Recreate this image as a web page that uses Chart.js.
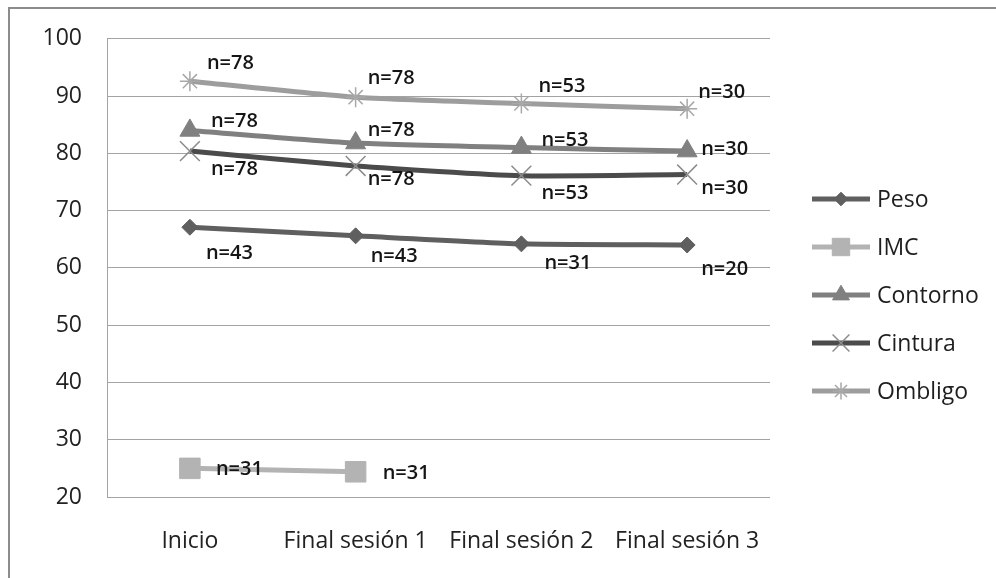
<!DOCTYPE html>
<html>
<head>
<meta charset="utf-8">
<script src="https://cdn.jsdelivr.net/npm/chart.js@4.4.0/dist/chart.umd.min.js"></script>
<style>
  html, body { margin: 0; padding: 0; background: #fff; }
  #wrap { position: relative; width: 996px; height: 578px; }
  #frame { position: absolute; left: 8px; top: 7px; right: 0; bottom: 0;
           border-top: 2px solid #8c8c8c; border-left: 2px solid #8c8c8c; pointer-events: none; }
</style>
</head>
<body>
<div id="wrap"><canvas id="chart" width="996" height="578"></canvas><div id="frame"></div></div>
<script>
const categories = ["Inicio", "Final sesión 1", "Final sesión 2", "Final sesión 3"];
const seriesNames = ["Peso", "IMC", "Contorno", "Cintura", "Ombligo"];
const peso = [67.1, 65.6, 64.2, 64.0];
const imc = [25.0, 24.4, null, null];
const contorno = [84.0, 81.8, 81.0, 80.4];
const cintura = [80.4, 77.8, 76.1, 76.3];
const ombligo = [92.6, 89.8, 88.7, 87.8];
// sample sizes shown next to each point
const nPeso = [43, 43, 31, 20];
const nImc = [31, 31];
const nContorno = [78, 78, 53, 30];
const nCintura = [78, 78, 53, 30];
const nOmbligo = [78, 78, 53, 30];
const yTicks = [20, 30, 40, 50, 60, 70, 80, 90, 100];

const FONT = "'Open Sans', sans-serif";

// label offsets from each point, [dx, dy]
const labelOffsets = [
  [[16, 26], [15, 20], [23, 19], [14, 24]],
  [[26, 1], [27, 1]],
  [[21, -9], [12, -13], [20, -7], [14, -2]],
  [[21, 18], [12, 13], [20, 18], [14, 14]],
  [[17, -18], [12, -19], [17, -17], [11, -16]]
];

const nLabels = {
  id: "nLabels",
  afterDatasetsDraw(chart) {
    const ctx = chart.ctx;
    ctx.save();
    ctx.font = "600 20px " + FONT;
    ctx.fillStyle = "#151515";
    ctx.textAlign = "left";
    ctx.textBaseline = "middle";
    chart.data.datasets.forEach((ds, i) => {
      const meta = chart.getDatasetMeta(i);
      ds.nValues.forEach((n, j) => {
        const pt = meta.data[j];
        const off = labelOffsets[i][j];
        ctx.fillText("n=" + n, pt.x + off[0], pt.y + off[1]);
      });
    });
    ctx.restore();
  }
};

//legend drawn by hand: line with marker, then text
const lineLegend = {
  id: "lineLegend",
  afterDraw(chart) {
    const ctx = chart.ctx;
    const x0 = chart.chartArea.right + 42;
    chart.data.datasets.forEach((ds, i) => {
      const y = 199 + i * 48;
      ctx.save();
      ctx.strokeStyle = ds.borderColor;
      ctx.lineWidth = ds.borderWidth;
      ctx.beginPath();
      ctx.moveTo(x0, y);
      ctx.lineTo(x0 + 58, y);
      ctx.stroke();
      ctx.fillStyle = ds.pointBackgroundColor;
      ctx.strokeStyle = ds.pointBorderColor;
      ctx.lineWidth = ds.pointBorderWidth;
      Chart.helpers.drawPoint(ctx, {
        pointStyle: ds.pointStyle,
        radius: ds.pointRadius * 0.85,
        borderWidth: ds.pointBorderWidth,
        rotation: 0
      }, x0 + 29, y);
      ctx.font = "23px " + FONT;
      ctx.fillStyle = "#1e1e1e";
      ctx.textAlign = "left";
      ctx.textBaseline = "middle";
      ctx.fillText(ds.label, x0 + 65, y + 1);
      ctx.restore();
    });
  }
};

function series(label, data, nValues, color, style, radius, markerColor, markerBorder) {
  return {
    label: label,
    data: data,
    nValues: nValues,
    borderColor: color,
    borderWidth: 5,
    tension: 0.2,
    spanGaps: false,
    pointStyle: style,
    pointRadius: radius,
    pointHoverRadius: radius,
    pointBackgroundColor: markerColor,
    pointBorderColor: markerColor,
    pointBorderWidth: markerBorder
  };
}

const ctx = document.getElementById("chart").getContext("2d");
new Chart(ctx, {
  type: "line",
  data: {
    labels: categories,
    datasets: [
      series(seriesNames[0], peso, nPeso, "#5f5f5f", "rectRot", 8, "#5f5f5f", 1),
      series(seriesNames[1], imc, nImc, "#b3b3b3", "rect", 14.5, "#b3b3b3", 1),
      series(seriesNames[2], contorno, nContorno, "#808080", "triangle", 11.5, "#808080", 1),
      series(seriesNames[3], cintura, nCintura, "#4b4b4b", "crossRot", 14, "#8c8c8c", 1.5),
      series(seriesNames[4], ombligo, nOmbligo, "#9d9d9d", "star", 10, "#a8a8a8", 1.5)
    ]
  },
  options: {
    responsive: false,
    animation: false,
    layout: { padding: { top: 38, right: 226, left: 0, bottom: 0 } },
    plugins: {
      legend: { display: false },
      tooltip: { enabled: false }
    },
    scales: {
      x: {
        offset: true,
        grid: { display: false, drawTicks: false },
        border: { display: false },
        ticks: { color: "#222", font: { family: FONT, size: 23 }, padding: 31, maxRotation: 0 },
        afterFit(scale) { scale.height = 81; }
      },
      y: {
        min: 20,
        max: 100,
        afterBuildTicks(scale) { scale.ticks = yTicks.map((v) => ({ value: v })); },
        grid: { color: "#a3a3a3", lineWidth: 1, drawTicks: false },
        border: { display: true, color: "#a3a3a3", width: 1 },
        ticks: { color: "#222", font: { family: FONT, size: 23 }, padding: 25 },
        afterFit(scale) { scale.width = 107; }
      }
    }
  },
  plugins: [nLabels, lineLegend]
});
</script>
</body>
</html>
